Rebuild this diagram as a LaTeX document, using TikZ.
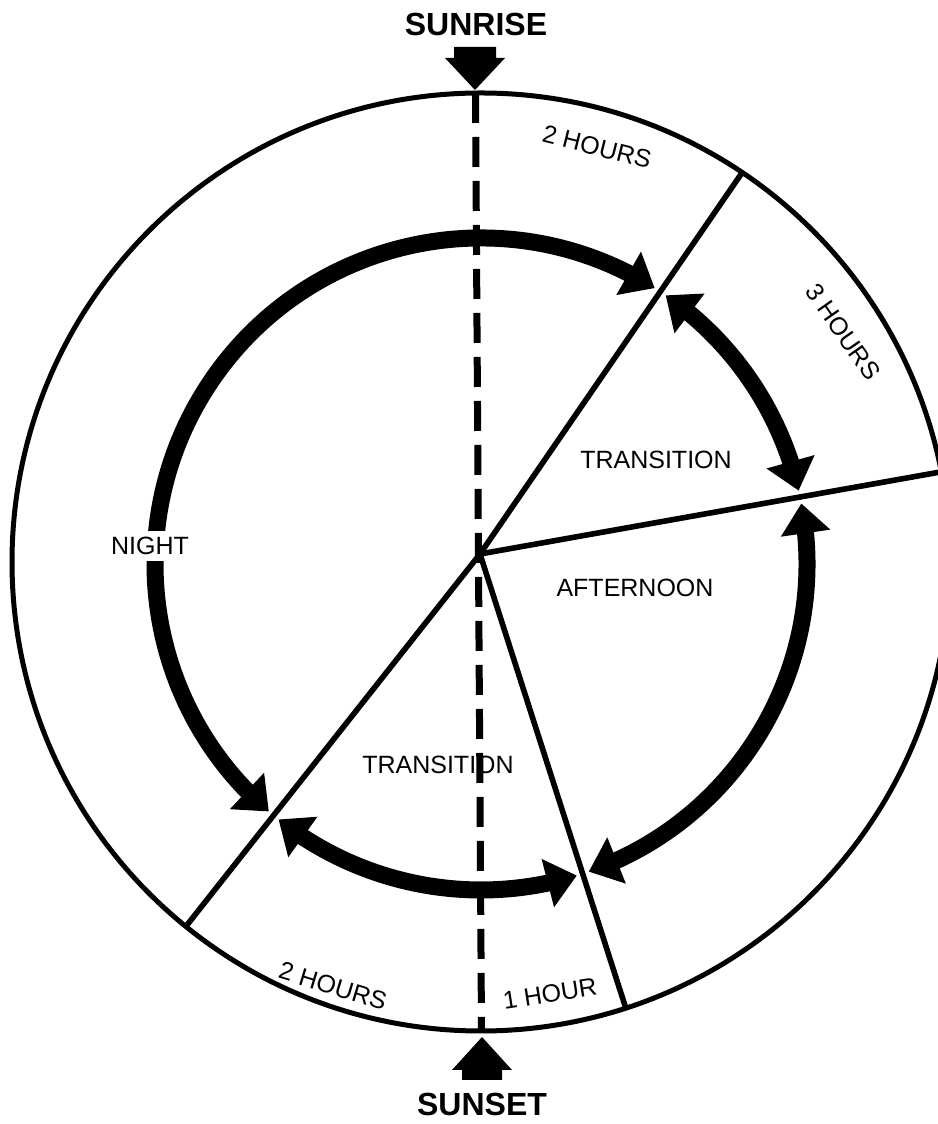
\documentclass[tikz,border=0pt]{standalone}
\usepackage{fontspec}
\setmainfont{Liberation Sans}
\usetikzlibrary{arrows.meta,bending}
\tikzset{
  rim/.style={line width=2.5pt},
  ray/.style={line width=2.8pt},
  sunline/.style={line width=3.5pt,dash pattern=on 15pt off 7pt},
  flow/.style={line width=8.5pt,{Triangle[length=15pt,width=24pt]}-{Triangle[length=15pt,width=24pt]}},
  lbl/.style={font=\fontsize{12.5}{14}\selectfont,inner sep=1pt},
  big/.style={font=\fontsize{16}{18}\selectfont\bfseries},
}
\begin{document}
\begin{tikzpicture}[x=0.5pt,y=0.5pt]
\useasboundingbox (0,0) rectangle (937,1124);
\coordinate (oc) at (481,562);
\coordinate (ac) at (481,560);
\coordinate (hub) at (480,570);
\coordinate (top) at (475.5,1031);
\coordinate (bot) at (481.5,93);

% sector lines
\begin{scope}
\clip (oc) circle[radius=469];
\draw[ray] (hub) -- ++(55.5:700);
\draw[ray] (hub) -- ++(10.1:700);
\draw[ray] (hub) -- ++(-72.2:700);
\draw[ray] (hub) -- ++(231.7:700);
\end{scope}
\draw[rim] (oc) circle[radius=469];
\draw[sunline] (top) -- (bot);

% the four arcs
\draw[flow] ([shift={(57.8:326)}]ac) arc[start angle=57.8,end angle=229.4,radius=326];
\draw[flow] ([shift={(55.5:326)}]ac) arc[start angle=55.5,end angle=13.0,radius=326];
\draw[flow] ([shift={(10.7:326)}]ac) arc[start angle=10.7,end angle=-70.7,radius=326];
\draw[flow] ([shift={(-72.9:326)}]ac) arc[start angle=-72.9,end angle=-128.4,radius=326];

\node[lbl,fill=white,inner ysep=3pt] (night) at (150,578) {NIGHT};
\node[lbl] (trans1) at (656,664) {TRANSITION};
\node[lbl] (aftn) at (635,536) {AFTERNOON};
\node[lbl] (trans2) at (438,359) {TRANSITION};
\node[lbl,rotate=-14] (hrs2a) at (597,977) {2 HOURS};
\node[lbl,rotate=-55] (hrs3) at (843,792) {3 HOURS};
\node[lbl,rotate=-17] (hrs2b) at (333,138) {2 HOURS};
\node[lbl,rotate=9] (hrs1) at (550,130) {1 HOUR};

% sunrise / sunset
\node[big] (sunrise) at (476,1100) {SUNRISE};
\fill (454,1077) -- (496,1077) -- (496,1066) -- (505,1066) -- (475,1034) -- (445,1066) -- (454,1066) -- cycle;
\node[big] (sunset) at (482,20) {SUNSET};
\fill (462,44) -- (502,44) -- (502,54) -- (512,54) -- (482,87) -- (452,54) -- (462,54) -- cycle;
\end{tikzpicture}
\end{document}
